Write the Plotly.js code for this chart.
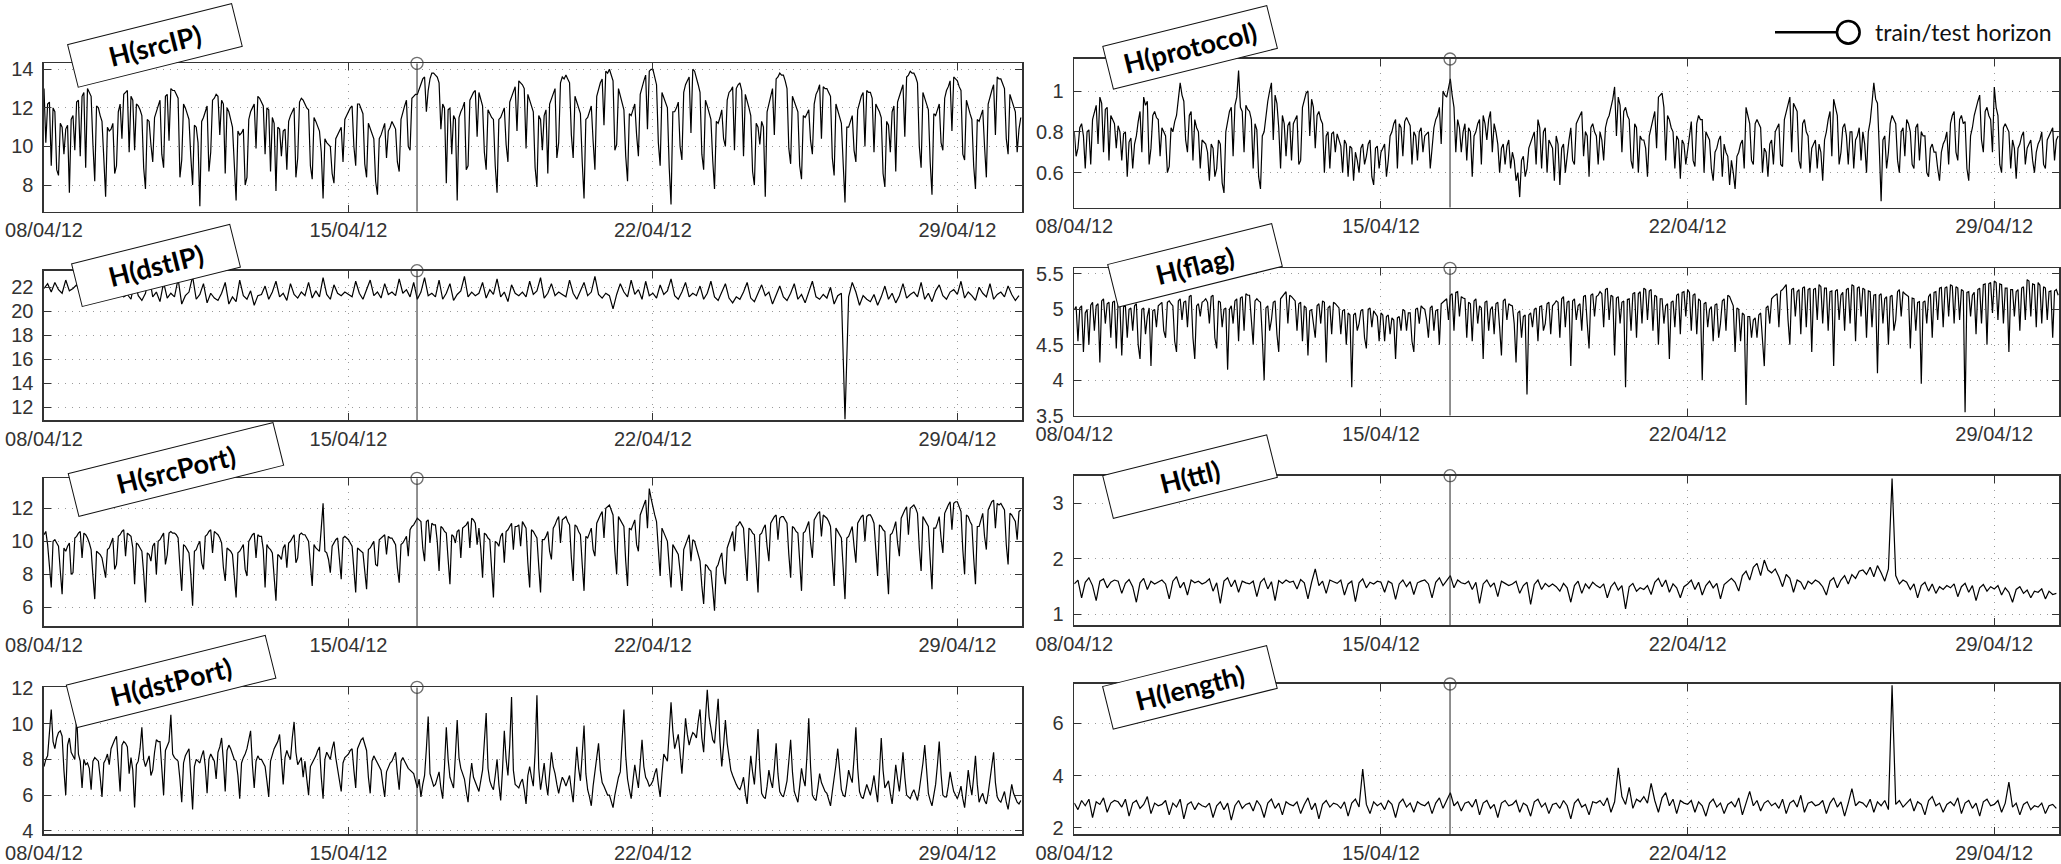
<!DOCTYPE html>
<html><head><meta charset="utf-8">
<script src="https://cdn.plot.ly/plotly-3.0.1.min.js"></script>
<style>html,body{margin:0;padding:0;background:#fff;overflow:hidden}#chart{width:2061px;height:864px}</style>
</head><body><div id="chart"></div>
<script>
// ---------- data (samples from 08/04/12 00:00) ----------
const START_MS = Date.UTC(2012, 3, 8, 0, 0, 0);
const HORIZON = '2012-04-16 13:50';
const DATE_TICKS = ['2012-04-08', '2012-04-15', '2012-04-22', '2012-04-29'];
const DATE_LABELS = ['08/04/12', '15/04/12', '22/04/12', '29/04/12'];
const X_START = '2012-04-08 00:00';
const X_END_LEFT = '2012-04-30 11:50';
const X_END_RIGHT = '2012-04-30 11:27';

// hourly series
const srcIP = [
13.0,10.2,12.2,12.3,9.0,12.0,11.8,8.8,8.5,11.2,11.0,9.6,10.9,11.1,7.6,11.4,11.6,9.8,12.3,12.4,9.5,12.6,12.8,8.9,
13.0,12.8,12.6,10.1,8.2,12.1,12.0,11.6,11.3,9.4,7.4,11.0,10.8,10.9,11.2,8.6,9.0,11.8,12.2,10.4,12.7,12.8,12.9,9.7,
12.6,12.4,9.8,12.2,12.1,11.9,11.6,8.9,7.8,11.4,11.3,10.1,9.2,11.5,11.8,12.1,12.4,9.6,8.9,12.6,12.7,10.3,13.0,12.9,
12.9,12.7,12.5,8.4,9.3,12.2,12.0,11.7,11.4,9.5,8.0,11.1,11.0,10.2,6.9,11.3,11.5,11.8,12.1,8.7,9.7,12.4,12.5,12.7,
12.6,10.6,12.4,12.2,8.6,12.0,11.8,11.4,11.0,9.1,7.2,10.8,10.6,10.7,10.9,8.0,8.4,11.4,11.8,12.0,12.2,9.9,12.6,12.5,
12.3,12.1,9.6,12.0,11.9,8.7,11.5,11.2,7.7,11.0,10.9,9.5,10.8,10.9,8.8,11.3,11.6,11.8,12.0,8.4,9.4,12.3,12.5,12.4,
12.2,12.0,11.9,9.0,8.3,11.5,11.3,11.0,10.8,9.7,7.3,10.4,10.2,10.1,10.0,8.6,8.1,10.4,10.6,10.8,11.0,9.2,11.4,11.6,
11.8,12.0,12.1,10.0,9.0,12.2,12.2,11.9,11.7,9.1,8.4,11.2,10.9,10.6,10.4,8.2,7.5,10.4,10.6,10.9,11.2,9.4,10.8,11.0,
11.3,11.1,10.9,9.2,8.7,11.4,11.8,12.1,12.4,10.0,9.8,12.5,12.6,12.7,12.7,13.0,13.3,13.5,13.6,11.8,12.9,13.5,13.8,13.8,
13.7,13.6,13.3,10.9,12.2,12.0,8.1,11.9,12.0,9.6,11.6,11.4,7.2,11.5,11.8,12.0,12.3,8.8,9.0,12.4,12.6,12.8,12.9,10.5,
12.8,12.5,12.1,9.7,8.8,11.9,11.7,11.5,11.4,9.0,7.6,11.4,11.5,11.8,12.0,10.1,9.2,12.3,12.6,12.9,13.1,10.8,13.4,13.3,
13.2,13.0,9.9,12.7,12.4,12.1,11.8,8.9,7.9,11.6,11.4,9.8,11.6,11.9,8.6,12.2,12.5,12.8,13.0,9.4,10.2,13.3,13.6,13.5,
13.7,13.5,13.3,10.6,9.4,12.6,12.3,12.0,11.7,9.2,7.3,11.4,11.5,11.8,12.1,10.3,8.8,12.6,13.0,13.3,13.5,11.1,13.9,13.8,
14.0,13.7,13.4,9.8,10.1,13.0,12.6,12.2,11.9,9.5,8.2,11.7,11.6,11.9,12.2,10.6,9.5,12.7,13.1,13.4,13.7,10.9,13.9,14.0,
14.0,13.6,13.2,10.2,9.0,12.8,12.5,12.2,12.0,8.9,7.0,11.8,11.8,12.0,12.3,10.0,9.3,12.8,13.2,13.4,13.6,10.7,14.0,13.9,
13.6,13.2,12.8,9.6,8.8,12.4,12.1,11.8,11.4,9.3,7.8,11.3,11.2,11.5,11.9,10.4,10.0,12.4,12.8,12.9,13.1,9.8,13.0,13.2,
13.3,12.9,9.5,12.7,12.4,12.0,11.6,8.7,8.0,11.2,11.0,10.1,11.3,11.0,7.4,11.8,12.2,12.6,13.0,10.6,13.5,13.6,13.8,13.7,
13.7,13.4,13.0,9.9,9.1,12.6,12.3,12.1,11.8,9.0,8.3,11.6,11.5,11.7,11.9,10.3,9.6,12.2,12.7,12.9,13.2,10.4,13.1,13.0,
13.0,12.8,12.6,9.4,8.5,12.2,11.9,11.6,11.2,9.1,7.1,11.0,11.0,11.3,11.6,9.8,9.2,11.9,12.3,12.6,12.8,10.0,12.9,12.8,
12.8,12.5,9.7,12.2,12.0,11.8,11.5,8.6,7.9,11.3,11.1,9.7,11.8,12.1,8.7,12.3,12.6,12.9,13.2,10.5,13.6,13.7,13.9,13.8,
13.8,13.6,13.3,10.0,8.9,12.8,12.5,12.2,11.9,9.2,7.5,11.7,11.6,11.9,12.2,10.2,9.8,12.5,12.9,13.1,13.4,10.8,13.6,13.5,
13.4,13.1,12.9,9.6,9.3,12.4,12.0,11.7,11.4,9.0,7.8,11.4,11.3,11.6,11.9,10.0,8.4,12.2,12.6,12.9,13.2,10.6,13.6,13.5,
13.5,13.2,13.0,10.4,9.6,12.7,12.4,12.1,11.8,9.7,10.9,11.5];

const protocol = [
0.80,0.68,0.72,0.82,0.84,0.78,0.62,0.80,0.81,0.64,0.86,0.90,0.93,0.74,0.97,0.94,0.70,0.91,0.92,0.66,0.88,0.86,0.84,0.72,
0.83,0.80,0.66,0.79,0.80,0.58,0.75,0.77,0.62,0.74,0.78,0.85,0.90,0.70,0.97,0.93,0.95,0.64,0.72,0.88,0.90,0.87,0.86,0.68,
0.82,0.80,0.78,0.60,0.63,0.82,0.80,0.85,0.88,0.96,1.04,0.98,0.95,0.76,0.70,0.88,0.90,0.66,0.86,0.82,0.80,0.62,0.76,0.75,
0.74,0.70,0.56,0.74,0.72,0.58,0.62,0.76,0.74,0.55,0.50,0.80,0.86,0.90,0.92,0.68,0.93,0.97,1.10,0.92,0.90,0.70,0.93,0.91,
0.90,0.86,0.62,0.84,0.81,0.58,0.52,0.78,0.80,0.88,0.95,1.00,1.04,0.76,0.98,0.94,0.82,0.62,0.88,0.84,0.68,0.83,0.85,0.66,
0.84,0.86,0.88,0.64,0.66,0.92,0.95,0.99,1.00,0.78,0.96,0.92,0.72,0.88,0.90,0.86,0.84,0.60,0.78,0.80,0.62,0.79,0.80,0.70,
0.79,0.76,0.73,0.60,0.76,0.74,0.58,0.73,0.72,0.56,0.70,0.66,0.60,0.72,0.74,0.64,0.68,0.74,0.76,0.58,0.54,0.72,0.73,0.62,
0.70,0.72,0.74,0.58,0.66,0.78,0.80,0.84,0.86,0.62,0.84,0.82,0.68,0.85,0.87,0.85,0.83,0.64,0.80,0.78,0.66,0.80,0.82,0.70,
0.78,0.79,0.80,0.62,0.74,0.82,0.86,0.88,0.92,0.74,1.00,0.98,0.97,1.02,1.06,0.98,0.92,0.70,0.86,0.82,0.70,0.80,0.84,0.66,
0.82,0.80,0.58,0.78,0.80,0.84,0.86,0.64,0.88,0.84,0.76,0.86,0.90,0.70,0.84,0.80,0.74,0.60,0.72,0.74,0.64,0.73,0.76,0.62,
0.70,0.66,0.56,0.60,0.48,0.66,0.68,0.58,0.62,0.72,0.75,0.78,0.80,0.64,0.86,0.82,0.62,0.80,0.82,0.60,0.76,0.74,0.72,0.56,
0.78,0.74,0.54,0.72,0.74,0.60,0.70,0.76,0.82,0.66,0.64,0.84,0.86,0.88,0.90,0.68,0.80,0.78,0.58,0.82,0.84,0.80,0.78,0.64,
0.80,0.76,0.66,0.82,0.86,0.88,0.92,0.96,1.02,0.78,0.97,0.93,0.70,0.90,0.92,0.88,0.86,0.66,0.62,0.84,0.82,0.60,0.78,0.76,
0.76,0.72,0.58,0.78,0.82,0.86,0.90,0.72,0.97,0.98,0.99,0.92,0.66,0.88,0.86,0.82,0.80,0.62,0.78,0.76,0.57,0.76,0.74,0.64,
0.72,0.80,0.85,0.66,0.63,0.84,0.88,0.86,0.86,0.60,0.80,0.78,0.76,0.62,0.56,0.70,0.72,0.76,0.78,0.58,0.74,0.70,0.68,0.54,
0.66,0.60,0.52,0.68,0.70,0.74,0.76,0.62,0.92,0.88,0.84,0.66,0.64,0.84,0.86,0.84,0.82,0.60,0.72,0.70,0.58,0.74,0.76,0.64,
0.80,0.82,0.84,0.64,0.63,0.86,0.90,0.94,0.97,0.70,0.94,0.92,0.90,0.66,0.62,0.84,0.86,0.80,0.78,0.60,0.72,0.74,0.76,0.62,
0.74,0.70,0.56,0.76,0.80,0.86,0.90,0.68,0.96,0.92,0.88,0.64,0.70,0.82,0.84,0.78,0.64,0.80,0.80,0.62,0.76,0.78,0.82,0.66,
0.80,0.74,0.60,0.80,0.85,0.94,1.04,0.96,0.94,0.72,0.46,0.76,0.78,0.62,0.70,0.84,0.88,0.86,0.84,0.66,0.60,0.80,0.82,0.68,
0.86,0.84,0.80,0.64,0.62,0.82,0.84,0.66,0.80,0.78,0.78,0.60,0.58,0.72,0.74,0.70,0.70,0.62,0.56,0.70,0.74,0.76,0.80,0.64,
0.84,0.88,0.90,0.70,0.66,0.86,0.88,0.84,0.85,0.62,0.56,0.78,0.82,0.88,0.92,0.95,0.98,0.76,0.70,0.90,0.92,0.88,0.86,0.70,
1.02,0.92,0.88,0.64,0.60,0.82,0.84,0.82,0.80,0.62,0.76,0.72,0.57,0.72,0.74,0.78,0.80,0.64,0.72,0.74,0.76,0.66,0.60,0.70,
0.74,0.76,0.80,0.64,0.62,0.76,0.78,0.80,0.82,0.66,0.76,0.78];

const flag = [
5.00,5.04,4.55,5.02,5.05,4.40,4.95,5.00,4.50,5.06,5.10,4.70,5.05,5.08,4.25,5.12,5.15,4.80,5.08,5.10,4.60,5.10,5.12,4.45,
5.10,5.06,4.35,5.04,5.05,4.60,5.00,5.02,4.70,5.05,5.08,4.50,4.30,5.00,5.02,4.65,4.90,5.02,4.20,4.98,5.00,4.75,5.05,5.08,
5.10,4.70,4.60,5.10,5.12,5.08,5.05,4.55,4.40,5.12,5.15,4.85,5.10,5.12,4.75,5.18,5.20,4.60,4.30,5.05,5.08,4.90,5.10,5.12,
5.15,5.10,4.80,5.18,5.20,4.60,4.45,5.12,5.10,4.75,5.00,5.02,4.15,5.00,5.05,4.80,5.12,5.15,4.55,5.16,5.18,4.70,5.22,5.20,
5.20,4.85,4.50,5.12,5.15,5.12,5.10,4.60,4.00,5.02,5.05,4.70,4.85,5.10,5.12,4.65,4.40,5.15,5.18,5.22,5.25,4.80,5.20,5.18,
5.15,5.12,4.70,5.08,5.10,4.55,5.05,5.02,4.35,4.98,5.00,4.75,4.60,5.05,5.08,4.80,5.12,5.10,4.25,5.02,5.05,4.65,5.10,5.08,
5.05,5.02,4.65,4.98,5.00,4.50,4.95,4.92,3.90,4.92,4.95,4.70,4.80,4.98,5.00,4.60,4.45,5.00,5.02,4.75,4.98,4.94,4.90,4.55,
4.95,4.92,4.55,4.90,4.92,4.65,4.88,4.85,4.30,4.88,4.90,4.70,5.00,4.98,4.70,4.95,4.95,4.55,4.40,5.00,5.02,4.80,5.05,5.02,
5.00,4.85,4.60,5.02,5.05,4.70,4.98,5.00,4.50,5.08,5.10,5.12,5.15,4.85,5.20,5.22,4.70,5.24,5.25,4.90,5.18,5.16,5.15,4.60,
5.10,5.08,4.55,5.12,5.15,4.80,5.05,5.02,4.30,5.10,5.12,4.70,5.00,5.04,4.65,5.08,5.10,4.75,4.35,5.12,5.15,4.85,5.08,5.06,
5.05,4.80,4.25,4.95,4.98,4.60,4.90,4.92,3.80,4.92,4.95,4.75,5.00,5.02,4.55,5.04,5.05,4.70,4.80,5.08,5.10,4.65,5.05,5.08,
5.12,5.10,4.60,5.15,5.18,4.75,5.10,5.12,4.20,5.12,5.15,4.85,5.05,5.08,4.70,5.18,5.20,4.80,4.45,5.20,5.22,4.90,5.18,5.20,
5.25,5.22,4.75,5.28,5.30,4.85,5.20,5.18,4.35,5.16,5.18,4.80,5.10,5.12,3.90,5.14,5.15,4.70,5.22,5.24,4.60,5.22,5.25,4.80,
5.30,5.28,4.85,5.26,5.28,4.70,5.20,5.18,4.50,5.15,5.15,4.80,5.05,5.08,4.30,5.10,5.12,4.75,5.20,5.22,4.65,5.24,5.25,4.90,
5.28,5.24,4.70,5.20,5.22,4.65,5.15,5.12,4.00,5.08,5.10,4.75,5.00,5.04,4.55,5.06,5.08,4.60,4.80,5.12,5.15,4.70,5.20,5.18,
5.10,5.05,4.40,5.02,5.00,4.55,4.95,4.92,3.65,4.90,4.90,4.60,4.85,4.88,4.60,4.92,4.95,4.50,4.20,5.02,5.05,4.80,5.15,5.18,
5.20,5.22,4.75,5.26,5.28,5.32,5.35,4.85,4.50,5.28,5.30,4.90,5.25,5.28,4.65,5.30,5.32,4.75,5.28,5.30,4.40,5.28,5.30,4.85,
5.35,5.32,4.80,5.30,5.30,4.70,5.25,5.26,4.20,5.26,5.28,4.85,5.20,5.24,4.70,5.28,5.30,4.80,5.35,5.33,4.55,5.30,5.32,4.90,
5.30,5.28,4.60,5.26,5.25,4.75,5.20,5.21,4.10,5.20,5.22,4.80,5.15,5.18,4.50,5.18,5.20,4.70,4.85,5.25,5.28,4.90,5.25,5.22,
5.20,5.18,4.45,5.16,5.15,4.70,5.10,5.11,3.95,5.10,5.12,4.80,5.18,5.22,4.60,5.24,5.25,4.85,5.30,5.31,4.75,5.30,5.32,4.90,
5.35,5.33,4.80,5.32,5.30,4.85,5.28,5.26,3.55,5.24,5.25,4.90,5.20,5.24,4.65,5.28,5.30,4.80,5.35,5.36,4.50,5.36,5.38,4.95,
5.40,5.38,4.85,5.36,5.35,4.80,5.30,5.30,4.40,5.28,5.28,4.90,5.25,5.28,4.70,5.30,5.32,4.85,5.42,5.40,4.90,5.36,5.35,4.75,
5.38,5.34,4.80,5.32,5.30,4.85,5.25,5.26,4.60,5.26,5.28,5.20];

const srcPort = [
10.4,10.6,9.8,8.4,7.2,10.0,10.1,9.9,9.7,8.2,6.8,9.6,9.4,9.7,9.9,8.0,8.1,10.2,10.3,10.5,10.6,9.0,10.5,10.4,
10.2,9.9,9.5,7.9,6.5,9.4,9.3,9.2,9.0,8.4,7.8,9.5,9.6,9.9,10.2,8.3,8.6,10.3,10.4,10.6,10.7,9.1,10.5,10.4,
10.3,9.6,7.4,9.9,9.8,9.6,9.4,8.1,6.3,9.3,9.2,8.8,9.7,9.9,8.0,10.0,10.1,10.3,10.5,8.6,9.2,10.5,10.6,10.5,
10.5,10.4,10.2,8.5,7.0,9.8,9.7,9.5,9.3,8.0,6.1,9.4,9.5,9.8,10.0,8.7,8.3,10.3,10.4,10.6,10.7,9.3,10.6,10.5,
10.4,10.2,9.9,8.4,7.6,9.6,9.5,9.4,9.2,8.1,6.6,9.3,9.4,9.6,9.8,8.3,7.9,10.0,10.2,10.4,10.5,9.0,10.4,10.3,
10.3,9.5,7.2,9.8,9.6,9.5,9.3,8.0,6.4,9.2,9.1,8.9,9.6,9.8,8.4,9.9,10.0,10.2,10.4,8.7,9.0,10.4,10.5,10.4,
10.4,10.2,10.0,8.6,7.3,9.8,9.6,9.5,9.4,10.8,12.3,9.4,9.3,8.9,8.1,9.7,9.9,10.1,10.2,8.9,7.7,10.2,10.3,10.2,
10.1,9.9,9.7,8.3,6.9,9.6,9.5,9.4,9.3,8.2,7.1,9.5,9.6,9.8,10.0,8.6,8.5,10.1,10.2,10.3,10.4,9.2,10.3,10.2,
10.2,10.0,9.8,8.4,7.5,9.8,9.9,10.1,10.3,9.1,10.7,10.9,11.0,11.2,11.4,11.3,11.2,9.6,8.8,11.2,11.3,9.9,11.1,11.0,
11.0,10.0,8.2,10.9,10.8,10.6,10.5,8.9,7.4,10.4,10.3,9.9,10.6,10.7,9.0,10.8,10.9,11.0,11.2,9.6,11.4,11.3,11.1,9.8,
10.8,9.6,7.8,10.5,10.4,10.2,10.1,8.4,6.6,10.0,9.9,9.7,10.3,10.5,8.7,10.6,10.7,10.9,11.1,9.5,10.9,10.9,11.0,9.7,
11.2,11.0,10.8,8.7,7.2,10.7,10.6,10.4,10.2,8.5,6.9,10.1,10.1,10.3,10.6,9.4,8.9,10.8,11.0,11.3,11.5,9.9,11.3,11.4,
11.5,11.2,11.0,9.0,7.6,11.0,10.9,10.6,10.4,8.6,7.0,10.3,10.2,10.5,10.8,9.5,9.1,11.1,11.4,11.6,11.8,10.2,12.0,12.1,
12.2,11.9,11.6,9.4,8.0,11.5,11.3,11.1,10.9,8.8,7.3,10.8,10.7,11.0,11.3,9.8,9.4,11.6,11.9,12.2,12.5,10.8,13.2,12.6,
12.0,11.6,11.2,9.3,7.9,10.8,10.5,10.2,10.0,8.5,7.2,9.8,9.6,9.4,9.2,8.2,7.0,9.5,9.8,10.1,10.4,8.8,10.1,10.0,
9.6,9.2,8.8,7.3,6.2,8.6,8.5,8.3,8.2,7.1,5.8,8.4,8.6,9.0,9.3,8.0,7.4,9.6,9.9,10.3,10.6,9.4,10.9,11.0,
11.2,11.0,10.8,9.1,7.6,10.8,10.7,10.5,10.4,8.7,6.9,10.4,10.5,10.8,11.0,9.7,8.8,11.1,11.3,11.5,11.6,10.1,11.4,11.5,
11.5,11.3,11.1,9.2,7.8,10.9,10.8,10.6,10.5,8.8,7.0,10.5,10.6,10.9,11.2,9.9,9.0,11.3,11.5,11.7,11.8,10.3,11.6,11.5,
11.4,11.2,10.9,8.9,7.3,10.8,10.6,10.4,10.2,8.4,6.5,10.2,10.3,10.6,10.9,9.7,8.7,11.1,11.3,11.5,11.6,10.0,11.5,11.6,
11.6,11.4,11.1,9.3,7.9,11.0,10.9,10.7,10.6,8.6,6.8,10.4,10.5,10.8,11.2,9.9,9.1,11.4,11.7,11.9,12.1,10.4,12.0,12.1,
12.2,12.0,11.7,9.6,8.2,11.5,11.3,11.1,10.9,8.9,7.1,10.8,10.8,11.1,11.5,10.2,9.3,11.7,12.0,12.2,12.4,10.7,12.3,12.4,
12.4,12.1,11.8,9.5,8.0,11.6,11.5,11.2,11.0,9.0,7.4,10.9,10.9,11.3,11.7,10.3,9.5,11.9,12.2,12.4,12.5,10.8,12.3,12.2,
12.3,12.1,11.9,9.8,8.6,11.7,11.6,11.4,11.2,10.1,11.8,11.9];

const dstPort = [
7.6,8.0,8.2,9.4,10.8,9.0,8.6,9.2,9.5,9.6,9.3,7.4,6.0,8.8,9.2,8.4,8.2,8.0,10.5,8.3,7.9,6.4,8.0,7.7,
7.8,7.5,6.3,7.9,8.1,8.0,7.9,7.0,5.9,7.8,8.0,8.3,7.7,8.6,8.9,9.1,9.3,7.6,6.2,8.8,9.0,8.9,8.7,7.2,
8.1,7.4,5.3,7.7,7.9,8.6,9.8,8.0,7.6,7.9,8.2,7.1,7.4,8.4,9.1,9.0,9.0,7.5,6.0,8.5,8.8,9.0,10.5,8.3,
8.1,8.0,7.9,6.9,5.6,7.8,8.2,8.4,8.6,7.0,5.2,7.6,8.0,7.9,7.8,8.2,8.5,7.6,6.1,8.0,8.3,8.1,7.9,6.9,
8.4,8.7,9.2,7.9,6.2,8.5,8.8,8.6,8.3,8.0,7.9,7.1,5.8,7.8,8.1,8.3,8.6,9.1,9.6,7.7,6.4,7.9,8.2,8.0,
8.0,7.8,7.6,6.8,5.9,7.9,8.3,8.6,8.8,9.0,9.4,7.9,6.6,8.1,8.5,8.2,8.0,9.2,10.1,8.4,7.7,7.9,8.1,7.0,
7.9,6.9,6.0,7.6,7.8,8.0,8.2,8.5,8.7,7.0,5.8,8.0,8.4,8.2,8.0,8.6,9.0,8.1,7.5,7.0,6.2,7.8,8.1,8.2,
8.3,8.5,8.6,7.4,6.4,8.6,8.9,9.1,9.2,8.8,8.5,7.0,6.1,7.9,8.2,8.0,7.8,7.6,7.4,6.6,5.9,7.3,7.6,7.8,
7.9,8.2,8.4,7.2,6.3,7.9,8.1,7.9,7.7,7.5,7.4,7.3,7.2,6.8,6.4,6.9,5.9,6.6,7.1,8.6,10.4,7.2,6.8,6.5,
6.6,7.0,7.3,6.4,5.8,7.6,9.8,8.0,7.0,6.7,6.4,8.2,10.2,8.1,7.5,7.2,6.9,6.2,5.6,6.9,7.8,7.0,6.7,6.4,
6.2,6.8,7.4,9.0,10.6,7.5,6.8,6.5,6.3,7.1,8.0,6.6,5.7,7.4,9.6,8.0,7.1,8.8,11.5,7.4,6.6,6.5,6.4,6.7,
6.9,6.3,5.5,7.1,7.6,7.0,6.5,8.4,11.6,7.5,6.3,7.0,7.8,6.7,6.0,7.2,8.4,7.6,7.2,6.6,6.1,6.6,7.0,6.8,
6.5,6.8,7.1,6.3,5.6,7.2,8.7,7.5,6.8,8.3,9.9,7.2,6.3,5.9,5.4,6.5,7.4,8.2,8.9,7.4,6.7,6.5,6.2,6.0,
6.0,5.7,5.3,6.0,6.6,7.0,7.3,8.8,10.8,8.2,6.9,6.3,5.8,6.8,7.7,7.0,6.4,7.8,9.1,7.6,7.0,6.8,6.5,6.6,
6.8,7.2,7.5,6.6,5.9,7.2,8.3,8.1,7.9,9.5,11.2,9.6,8.6,9.0,9.4,8.3,7.2,8.7,10.3,9.4,8.8,9.2,9.5,9.4,
9.2,10.1,10.8,9.2,8.4,10.3,11.9,10.4,9.6,9.1,8.9,10.2,11.4,9.0,7.6,8.8,10.2,8.9,8.0,7.4,7.1,6.8,6.6,6.4,
6.3,6.6,7.0,6.1,5.5,6.9,8.2,7.3,6.6,8.0,9.7,7.5,6.1,5.9,5.8,6.5,7.4,6.8,6.4,7.5,8.9,7.2,6.2,6.0,
5.9,6.3,6.8,7.9,9.1,7.3,6.2,5.9,5.6,6.5,7.5,6.9,6.5,8.2,10.3,7.6,6.0,5.8,5.7,6.4,7.2,6.7,6.4,6.2,
6.1,5.7,5.4,6.2,6.9,7.7,8.6,7.2,6.3,6.0,5.9,6.6,7.4,7.0,6.7,8.1,9.8,7.5,6.2,5.9,5.8,6.2,6.6,6.3,
6.0,6.5,7.1,6.3,5.6,7.3,9.2,7.4,6.4,6.6,6.8,6.1,5.5,6.5,7.7,6.9,6.2,7.2,8.4,7.0,6.0,5.9,5.8,6.1,
6.3,6.0,5.7,6.3,7.0,7.8,8.8,7.2,6.1,5.7,5.4,6.0,6.6,7.7,9.0,7.2,6.0,5.9,5.9,6.5,7.3,6.7,6.2,6.0,
5.8,6.1,6.5,5.8,5.3,6.3,7.4,6.6,6.0,7.0,8.2,6.6,5.6,5.9,6.1,5.7,5.5,6.1,6.8,7.5,8.4,6.7,5.9,5.7,
5.6,5.9,6.2,5.6,5.2,5.9,6.6,6.1,5.8,5.6,5.5,5.7];

// 2-hourly series
const dstIP = [
21.9,22.3,21.6,22.4,21.8,21.5,22.6,21.7,21.9,22.2,21.6,21.8,
22.0,21.6,22.5,21.8,21.4,22.1,21.7,22.8,21.5,21.9,21.2,21.4,
21.0,22.6,21.3,20.9,21.5,23.0,21.2,21.6,20.8,22.4,21.1,21.5,
21.2,22.7,20.6,21.3,21.6,22.9,21.0,21.4,22.3,20.7,21.5,21.1,
20.9,21.5,22.4,20.6,21.2,20.8,22.6,21.3,21.0,21.7,20.5,21.3,
21.4,22.1,21.0,21.6,22.5,21.2,21.5,20.9,22.3,21.4,21.1,21.6,
21.3,22.4,21.1,21.7,21.2,22.8,21.4,21.0,22.2,21.5,21.3,21.6,
21.4,21.2,22.5,21.5,21.0,21.8,22.6,21.3,21.6,21.1,22.3,21.4,
21.6,21.3,22.7,21.5,21.8,21.2,22.4,21.0,21.6,22.8,21.3,21.5,
21.2,22.6,21.0,21.5,22.3,20.9,21.4,21.7,22.9,21.2,21.6,21.3,
21.5,22.4,21.1,21.8,21.4,22.7,21.2,21.6,20.8,22.2,21.5,21.3,
21.6,21.2,22.5,21.4,21.7,22.8,21.1,21.5,22.3,21.3,21.6,21.4,
21.2,22.6,21.5,21.0,21.7,22.4,21.3,21.6,22.9,21.4,21.1,21.5,
21.3,20.2,21.4,22.3,21.6,21.2,22.6,21.4,21.8,21.0,22.5,21.3,
21.5,21.1,22.2,21.4,21.7,22.7,21.3,21.0,21.6,22.4,21.2,21.5,
21.3,22.1,21.0,21.5,22.5,21.2,20.9,21.6,22.3,21.1,20.7,21.2,
21.0,21.6,22.4,21.1,20.8,21.5,22.2,21.3,21.6,20.6,21.4,22.1,
21.2,20.9,21.5,22.3,21.0,21.4,20.7,21.6,22.5,21.2,21.0,21.4,
21.1,22.0,20.6,21.3,21.5,11.0,21.2,22.4,21.6,20.5,21.3,21.0,
20.8,21.4,20.5,21.2,22.1,21.0,21.5,20.7,21.3,22.3,21.1,21.4,
21.6,21.2,22.4,21.0,21.5,20.8,21.7,22.2,21.3,21.0,21.6,21.8,
21.4,22.5,21.1,21.6,21.3,20.9,22.0,21.5,21.2,22.3,21.0,21.4,
21.6,21.2,22.1,21.4,20.9,21.3];

const ttl = [
1.55,1.62,1.30,1.58,1.66,1.52,1.25,1.60,1.64,1.48,1.58,1.62,
1.60,1.38,1.56,1.63,1.50,1.22,1.57,1.65,1.45,1.60,1.55,1.58,
1.62,1.55,1.28,1.60,1.68,1.48,1.58,1.35,1.62,1.57,1.60,1.55,
1.58,1.64,1.42,1.57,1.20,1.60,1.66,1.50,1.62,1.40,1.60,1.57,
1.55,1.60,1.32,1.58,1.65,1.46,1.59,1.25,1.61,1.56,1.62,1.58,
1.60,1.46,1.63,1.57,1.28,1.58,1.82,1.52,1.60,1.38,1.62,1.59,
1.56,1.62,1.35,1.55,1.60,1.23,1.57,1.64,1.48,1.58,1.55,1.60,
1.58,1.40,1.60,1.56,1.27,1.55,1.62,1.50,1.59,1.36,1.57,1.60,
1.62,1.55,1.30,1.58,1.66,1.52,1.60,1.70,1.48,1.62,1.57,1.55,
1.60,1.45,1.58,1.20,1.55,1.62,1.50,1.57,1.32,1.60,1.56,1.52,
1.55,1.60,1.38,1.52,1.58,1.18,1.54,1.62,1.45,1.56,1.50,1.55,
1.50,1.42,1.56,1.48,1.22,1.52,1.60,1.38,1.55,1.47,1.58,1.52,
1.48,1.55,1.30,1.50,1.58,1.44,1.52,1.10,1.50,1.56,1.42,1.48,
1.45,1.52,1.36,1.58,1.65,1.50,1.62,1.40,1.55,1.48,1.30,1.50,
1.55,1.62,1.45,1.58,1.35,1.52,1.60,1.48,1.56,1.28,1.54,1.60,
1.65,1.58,1.42,1.70,1.78,1.62,1.85,1.92,1.70,1.98,1.80,1.75,
1.82,1.68,1.50,1.72,1.65,1.40,1.62,1.58,1.45,1.60,1.55,1.62,
1.58,1.50,1.35,1.60,1.66,1.48,1.62,1.70,1.55,1.72,1.65,1.78,
1.80,1.72,1.85,1.68,1.88,1.75,1.60,1.82,3.45,1.70,1.55,1.62,
1.58,1.45,1.55,1.30,1.52,1.58,1.42,1.55,1.38,1.50,1.45,1.52,
1.48,1.55,1.32,1.50,1.56,1.40,1.52,1.25,1.48,1.54,1.42,1.50,
1.46,1.52,1.35,1.48,1.40,1.22,1.45,1.50,1.38,1.44,1.30,1.42,
1.40,1.46,1.28,1.42,1.36,1.38];

const length = [
2.95,2.70,3.05,2.85,3.10,2.40,3.00,2.90,3.15,2.60,2.95,3.05,
3.00,2.80,3.10,2.45,2.95,3.05,2.75,2.90,3.20,2.55,2.95,2.85,
2.90,3.05,2.50,2.95,2.80,3.10,2.35,2.90,3.00,2.70,2.95,2.85,
2.80,2.95,2.40,2.85,3.00,2.70,2.95,2.30,2.85,3.05,2.75,2.90,
2.95,2.65,3.05,2.85,2.40,2.95,3.10,2.75,2.95,2.50,3.00,2.90,
2.85,3.00,2.55,2.90,3.15,2.70,2.95,2.35,2.90,3.05,2.80,2.95,
2.90,2.75,3.00,2.45,2.95,3.10,2.80,4.25,2.90,2.55,3.00,2.85,
2.95,2.70,3.05,2.90,2.40,2.95,3.10,2.80,2.95,2.60,3.00,2.90,
2.85,3.00,2.55,2.95,3.15,2.75,3.05,3.35,2.85,3.00,2.65,2.95,
3.00,2.80,3.10,2.50,2.95,3.05,2.75,2.90,2.40,2.95,3.05,2.85,
2.90,3.05,2.60,2.95,2.85,2.45,3.00,3.10,2.80,2.95,2.55,2.90,
2.95,2.75,3.05,2.85,2.35,2.95,3.10,2.80,2.90,2.50,3.00,2.95,
3.05,2.85,3.15,2.60,3.00,4.30,3.20,2.90,3.55,2.75,3.10,3.00,
3.20,2.95,3.70,3.05,2.60,3.15,3.35,2.85,3.10,2.55,3.05,2.95,
2.90,3.05,2.60,3.00,2.85,2.45,2.95,3.10,2.80,2.95,2.55,2.90,
3.00,2.80,3.15,2.50,2.95,3.40,2.85,3.05,2.65,2.95,3.05,2.85,
2.95,2.75,3.10,2.55,2.95,3.05,2.80,3.25,2.60,2.95,3.00,2.85,
2.90,3.05,2.55,2.95,3.15,2.80,3.00,2.45,2.95,3.50,2.85,3.00,
2.95,2.80,3.10,2.60,3.00,2.85,3.05,2.70,7.45,2.90,3.05,2.80,
2.95,3.10,2.65,3.00,2.90,2.50,3.05,3.20,2.85,2.95,2.60,2.90,
3.00,2.85,3.15,2.55,2.95,3.05,2.75,2.95,2.45,3.00,3.10,2.85,
2.90,3.05,2.60,2.95,3.75,2.80,2.95,2.50,2.90,3.00,2.70,2.85,
2.80,2.95,2.55,2.85,2.90,2.75];

// axis ranges and ticks
const RANGE_SRCIP = [6.62, 14.31],   TICKS_SRCIP = [8, 10, 12, 14];
const RANGE_PROTO = [0.428, 1.157],  TICKS_PROTO = [0.6, 0.8, 1];
const RANGE_DSTIP = [10.94, 23.38],  TICKS_DSTIP = [12, 14, 16, 18, 20, 22];
const RANGE_FLAG = [3.5, 5.58],      TICKS_FLAG = [3.5, 4, 4.5, 5, 5.5];
const RANGE_SRCPORT = [4.87, 13.82], TICKS_SRCPORT = [6, 8, 10, 12];
const RANGE_TTL = [0.81, 3.5],       TICKS_TTL = [1, 2, 3];
const RANGE_DSTPORT = [3.82, 12.04], TICKS_DSTPORT = [4, 6, 8, 10, 12];
const RANGE_LENGTH = [1.77, 7.5],    TICKS_LENGTH = [2, 4, 6];

// ---------- layout geometry ----------
const W = 2061, H = 864;
const XDOM_PX = [[44, 1022.3], [1074.3, 2059]];
const YDOM_PX = [
  [[63.3, 211.7], [59, 207.7]],
  [[270.7, 420], [268.3, 415.7]],
  [[478.3, 626], [475.7, 625]],
  [[687.3, 834], [684, 834]]
];

const panels = [
  {label: 'H(srcIP)',    data: srcIP,    step: 1, range: RANGE_SRCIP,   ticks: TICKS_SRCIP,   row: 0, col: 0, box: [154.8, 45.8, 168]},
  {label: 'H(protocol)', data: protocol, step: 1, range: RANGE_PROTO,   ticks: TICKS_PROTO,   row: 0, col: 1, box: [1189.6, 47.1, 168]},
  {label: 'H(dstIP)',    data: dstIP,    step: 2, range: RANGE_DSTIP,   ticks: TICKS_DSTIP,   row: 1, col: 0, box: [155.7, 265.5, 162]},
  {label: 'H(flag)',     data: flag,     step: 1, range: RANGE_FLAG,    ticks: TICKS_FLAG,    row: 1, col: 1, box: [1194.6, 265.5, 168]},
  {label: 'H(srcPort)',  data: srcPort,  step: 1, range: RANGE_SRCPORT, ticks: TICKS_SRCPORT, row: 2, col: 0, box: [175.7, 469.7, 210]},
  {label: 'H(ttl)',      data: ttl,      step: 2, range: RANGE_TTL,     ticks: TICKS_TTL,     row: 2, col: 1, box: [1190.3, 476.5, 168]},
  {label: 'H(dstPort)',  data: dstPort,  step: 1, range: RANGE_DSTPORT, ticks: TICKS_DSTPORT, row: 3, col: 0, box: [171.4, 681.1, 204]},
  {label: 'H(length)',   data: length,   step: 2, range: RANGE_LENGTH,  ticks: TICKS_LENGTH,  row: 3, col: 1, box: [1189.6, 687.8, 168]}
];

function fmt(ms) { return new Date(ms).toISOString().slice(0, 19).replace('T', ' '); }
function timesFor(n, stepH) { const t = []; for (let i = 0; i < n; i++) t.push(fmt(START_MS + i * stepH * 3600000)); return t; }

const TICKFONT = {family: 'Liberation Sans, Arial, sans-serif', size: 20, color: '#333'};
const GRID = {showgrid: true, gridcolor: '#9a9a9a', griddash: '1px,6px', gridwidth: 1};
const traces = [];
const layout = {
  width: W, height: H, margin: {l: 0, r: 0, t: 0, b: 0},
  paper_bgcolor: '#fff', plot_bgcolor: '#fff', showlegend: false,
  annotations: [], shapes: []
};

panels.forEach((p, i) => {
  const k = i === 0 ? '' : String(i + 1);
  const xa = 'x' + k, ya = 'y' + k;
  traces.push({
    type: 'scatter', mode: 'lines', x: timesFor(p.data.length, p.step), y: p.data,
    xaxis: xa, yaxis: ya, line: {color: '#000', width: 1.2}, hoverinfo: 'skip'
  });
  // train/test horizon line with circle at top
  traces.push({
    type: 'scatter', mode: 'lines+markers', x: [HORIZON, HORIZON], y: [p.range[0], p.range[1]],
    xaxis: xa, yaxis: ya, cliponaxis: false,
    line: {color: '#222', width: 1},
    marker: {symbol: 'circle-open', size: [0, 12], color: '#333', line: {width: 1.3, color: '#333'}},
    hoverinfo: 'skip'
  });
  const xd = XDOM_PX[p.col], yd = YDOM_PX[p.row][p.col];
  layout['xaxis' + k] = Object.assign({
    domain: [xd[0] / W, xd[1] / W], anchor: ya, type: 'date',
    range: [X_START, p.col === 0 ? X_END_LEFT : X_END_RIGHT],
    tickmode: 'array', tickvals: DATE_TICKS, ticktext: DATE_LABELS,
    showline: true, mirror: 'ticks', linecolor: '#333', linewidth: 1.6,
    ticks: 'inside', ticklen: 7, tickwidth: 1, tickcolor: '#333',
    tickfont: TICKFONT, ticklabelstandoff: 0, zeroline: false, fixedrange: true
  }, GRID);
  layout['yaxis' + k] = Object.assign({
    domain: [1 - yd[1] / H, 1 - yd[0] / H], anchor: xa,
    range: p.range, tickmode: 'array', tickvals: p.ticks,
    showline: true, mirror: 'ticks', linecolor: '#333', linewidth: 1.6,
    ticks: 'inside', ticklen: 7, tickwidth: 1, tickcolor: '#333',
    tickfont: TICKFONT, ticklabelstandoff: 5, zeroline: false, fixedrange: true
  }, GRID);
  layout.annotations.push({
    xref: 'paper', yref: 'paper', x: p.box[0] / W, y: 1 - p.box[1] / H,
    xanchor: 'center', yanchor: 'middle', showarrow: false,
    text: '<b>' + p.label + '</b>', textangle: -14,
    width: p.box[2], height: 43, borderpad: 0,
    bgcolor: '#fff', bordercolor: '#111', borderwidth: 1,
    font: {family: 'Lato, Noto Sans, sans-serif', size: 27, color: '#000'}
  });
});

// legend for horizon marker
const LEG_Y = 32.3, LEG_X0 = 1775, LEG_CX = 1848.3, LEG_R = 11.3;
layout.shapes.push({type: 'line', xref: 'paper', yref: 'paper',
  x0: LEG_X0 / W, x1: (LEG_CX - LEG_R) / W, y0: 1 - LEG_Y / H, y1: 1 - LEG_Y / H,
  line: {color: '#000', width: 2.6}});
layout.shapes.push({type: 'circle', xref: 'paper', yref: 'paper',
  x0: (LEG_CX - LEG_R) / W, x1: (LEG_CX + LEG_R) / W, y0: 1 - (LEG_Y + LEG_R) / H, y1: 1 - (LEG_Y - LEG_R) / H,
  line: {color: '#000', width: 2.6}, fillcolor: 'rgba(0,0,0,0)'});
layout.annotations.push({xref: 'paper', yref: 'paper', x: 1873 / W, y: 1 - LEG_Y / H,
  xanchor: 'left', yanchor: 'middle', showarrow: false, text: 'train/test horizon',
  font: {family: 'Lato, Noto Sans, sans-serif', size: 23, color: '#111'}});

Plotly.newPlot('chart', traces, layout, {staticPlot: true, displayModeBar: false});
</script></body></html>
